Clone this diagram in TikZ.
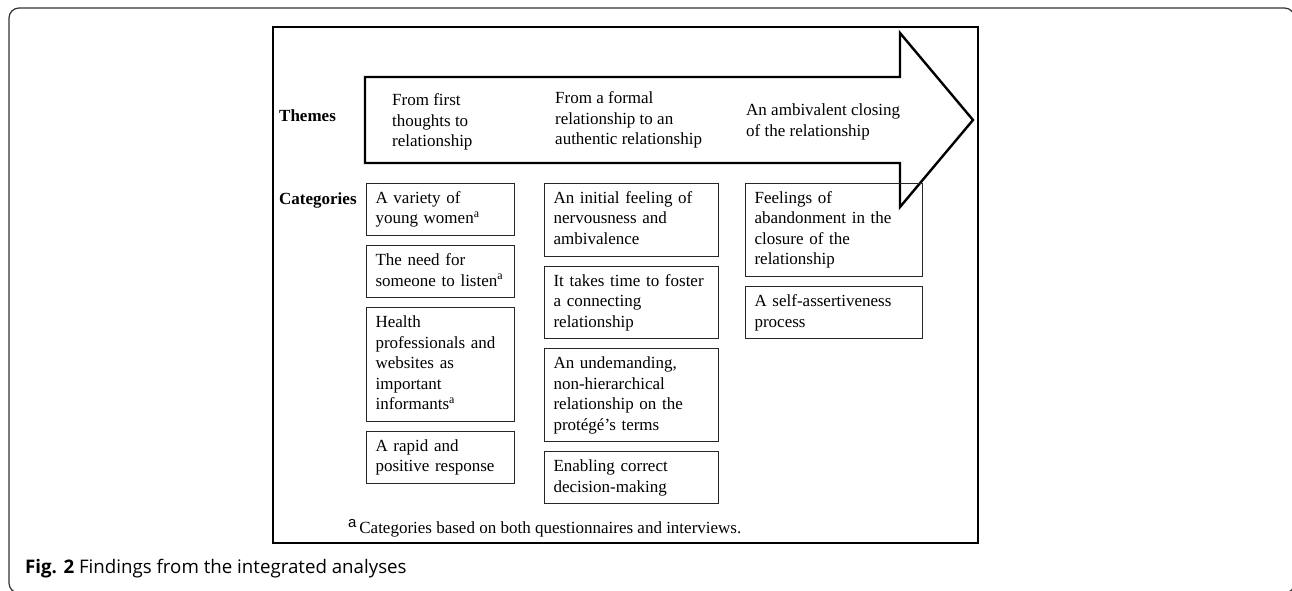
\documentclass[tikz,border=0pt]{standalone}
\usepackage{fontspec}
\setmainfont{Liberation Serif}
\newfontfamily\capfont{Open Sans}
\newfontfamily\notefont{Liberation Sans}
\usetikzlibrary{positioning}

\newcommand\figfont{\fontsize{17}{20.5}\selectfont}

\begin{document}
\begin{tikzpicture}[x=1pt,y=-1pt]
\useasboundingbox (0,0) rectangle (1292,590);
\tikzset{CatBox/.style = {draw=black!85, line width=1.1pt, anchor=north west,
                          align=left, inner xsep=9pt, inner ysep=5.5pt, font=\figfont,
                          execute at begin node=\strut, execute at end node=\strut},
         ColA/.style = {CatBox, text width=130pt},
         ColB/.style = {CatBox, text width=156pt},
         ColC/.style = {CatBox, text width=159pt},
         ThemeText/.style = {anchor=west, align=left, font=\figfont, inner sep=0pt},
         RowLabel/.style = {anchor=west, font=\figfont\bfseries, inner sep=0pt}
  }
% frames
\draw[line width=1.2pt, black!80, rounded corners=10pt] (9,8) rectangle (1294.5,593);
\draw[line width=2.6pt] (273,27) rectangle (978,543);
\draw[line width=2.4pt, line join=miter] (365,77) -- (900,77) -- (900,33) -- (973,120)
     -- (900,207) -- (900,163) -- (365,163) -- cycle;
%-----------------------------
\node[RowLabel] (themes) at (279,116) {Themes};
\node[RowLabel] (cats) at (279,200) {Categories};

\node[ThemeText] (first) at (392,122) {From first\\thoughts to\\relationship};
\node[ThemeText] (formal) at (555,120) {From a formal\\relationship to an\\authentic relationship};
\node[ThemeText] (closing) at (746,122) {An ambivalent closing\\of the relationship};
%-----------------------------
\node[ColA] (variety) at (366,183) {A variety of\\young women\textsuperscript{a}};
\node[ColA, below=9pt of variety] (listen) {The need for\\someone to listen\textsuperscript{a}};
\node[ColA, below=9pt of listen] (health) {Health\\professionals and\\websites as\\important\\informants\textsuperscript{a}};
\node[ColA, below=9pt of health] (rapid) {A rapid and\\positive response};
%-----------------------------
\node[ColB] (nervous) at (544,183) {An initial feeling of\\nervousness and\\ambivalence};
\node[ColB, below=9pt of nervous] (foster) {It takes time to foster\\a connecting\\relationship};
\node[ColB, below=9pt of foster] (undemand) {An undemanding,\\non-hierarchical\\relationship on the\\protégé’s terms};
\node[ColB, below=9pt of undemand] (decision) {Enabling correct\\decision-making};
%-----------------------------
\node[ColC] (abandon) at (745,183) {Feelings of\\abandonment in the\\closure of the\\relationship};
\node[ColC, below=9pt of abandon] (assert) {A self-assertiveness\\process};
%-----------------------------
\node[anchor=west, font=\figfont, inner sep=0pt] (note) at (348,528)
  {\raisebox{6pt}{\notefont\fontsize{15}{15}\selectfont a}\,Categories based on both questionnaires and interviews.};
\node[anchor=west, inner sep=0pt, font=\capfont\fontsize{18.7}{22}\selectfont] (caption) at (25,569)
  {\textbf{Fig. 2} Findings from the integrated analyses};

\end{tikzpicture}
\end{document}
